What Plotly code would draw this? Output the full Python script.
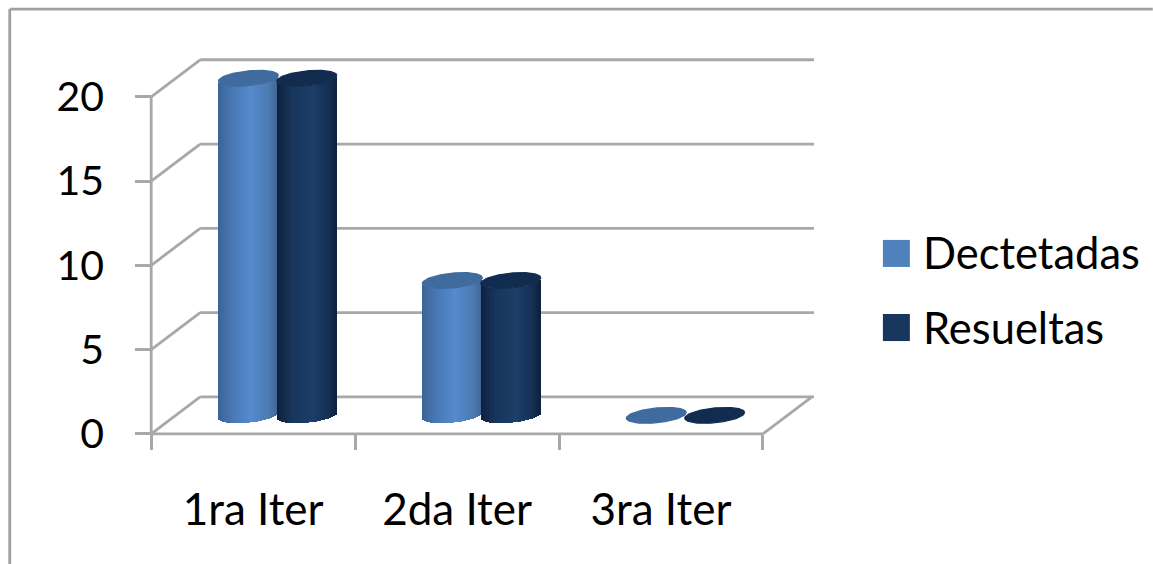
import numpy as np
import plotly.graph_objects as go

# Chart data
categories = ["1ra Iter", "2da Iter", "3ra Iter"]
dectetadas = [20, 8, 0]
resueltas = [20, 8, 0]
y_ticks = [0, 5, 10, 15, 20]

# Canvas and scale of the front plane, in pixels
W, H = 1153, 564
PX_X, PX_Y = 204.0, 16.83
X0_PX, Y0_PX = 151.0, 433.7
X_MIN, X_MAX = -0.05, 3.27
Y_MIN, Y_MAX = -0.6, 22.6

# Pseudo-3D depth of the box
DEPTH_X, DEPTH_Y = 49 / PX_X, 37 / PX_Y
RADIUS, ELL_B, ELL_SHEAR = 30 / PX_X, 7.4 / PX_Y, 2.8 / PX_Y
SPACING = 29.2 / PX_X
STRIPS = 30

GRID = "#a8a8a8"
LINE_W = 2.8

left = X0_PX + X_MIN * PX_X
right = X0_PX + X_MAX * PX_X
top = Y0_PX - Y_MAX * PX_Y
bottom = Y0_PX - Y_MIN * PX_Y


def px(x):
    return (x - left) / (right - left)


def py(y):
    return (bottom - y) / (bottom - top)


def lerp_color(stops, t):
    pos = [s[0] for s in stops]
    rgb = [np.interp(t, pos, [s[1][i] for s in stops]) for i in range(3)]
    return "rgb(%d,%d,%d)" % tuple(int(round(c)) for c in rgb)


LIGHT_SHADE = [(0, (58, 100, 150)), (0.22, (72, 118, 178)), (0.55, (84, 138, 206)),
               (0.85, (76, 122, 178)), (1, (62, 100, 146))]
DARK_SHADE = [(0, (13, 33, 62)), (0.25, (24, 54, 92)), (0.6, (28, 62, 106)),
              (0.85, (20, 48, 84)), (1, (13, 33, 60))]


def lower_edge(u):
    """Height of the near rim of a cylinder at u in [-1, 1] across its width."""
    return ELL_SHEAR * u - ELL_B * np.sqrt(np.clip(1 - u * u, 0, 1))


def cylinder_trace(values, side, name, shade):
    xs, heights, bases, colors = [], [], [], []
    edges = np.linspace(-1, 1, STRIPS + 1)
    mids = (edges[:-1] + edges[1:]) / 2
    for i, v in enumerate(values):
        cx = i + 0.5 + DEPTH_X / 2 + side * SPACING
        for u in mids:
            xs.append(cx + u * RADIUS)
            heights.append(v)
            bases.append(DEPTH_Y / 2 + lower_edge(u))
            colors.append(lerp_color(shade, (u + 1) / 2))
    return go.Bar(x=xs, y=heights, base=bases, width=2 * RADIUS / STRIPS, name=name,
                  marker=dict(color=colors, line=dict(width=0)), cliponaxis=False,
                  hoverinfo="skip", showlegend=False)


def cap_trace(values, side, name, color):
    xs, ys = [], []
    t = np.linspace(0, 2 * np.pi, 90)
    for i, v in enumerate(values):
        cx = i + 0.5 + DEPTH_X / 2 + side * SPACING
        cy = v + DEPTH_Y / 2
        xs += list(cx + RADIUS * np.cos(t)) + [None]
        ys += list(cy + ELL_SHEAR * np.cos(t) + ELL_B * np.sin(t)) + [None]
    return go.Scatter(x=xs, y=ys, mode="lines", fill="toself", fillcolor=color,
                      line=dict(width=1.2, color=color), name=name, cliponaxis=False,
                      hoverinfo="skip", showlegend=False)


fig = go.Figure()
fig.add_trace(cylinder_trace(dectetadas, -1, "Dectetadas", LIGHT_SHADE))
fig.add_trace(cylinder_trace(resueltas, 1, "Resueltas", DARK_SHADE))
fig.add_trace(cap_trace(dectetadas, -1, "Dectetadas", "#3f6b9e"))
fig.add_trace(cap_trace(resueltas, 1, "Resueltas", "#122c50"))

shapes = []
n = len(categories)


def seg(x0, y0, x1, y1):
    shapes.append(dict(type="line", xref="x", yref="y", x0=x0, y0=y0, x1=x1, y1=y1,
                       layer="below", line=dict(color=GRID, width=LINE_W)))


# Back wall gridlines and the diagonals on the side wall
for v in y_ticks:
    seg(DEPTH_X, v + DEPTH_Y, n + DEPTH_X + 0.01, v + DEPTH_Y)
    seg(0, v, DEPTH_X, v + DEPTH_Y)
# Floor edge, front axis lines
seg(n, 0, n + DEPTH_X, DEPTH_Y)
seg(0, 0, n, 0)
seg(0, 0, 0, y_ticks[-1])

# Outer chart frame, open at the right and bottom
for a, b, c, d in [(9.5, H, 9.5, 9.5), (9.5, 9.5, W, 9.5)]:
    shapes.append(dict(type="line", xref="paper", yref="paper",
                       x0=px(a), y0=py(b), x1=px(c), y1=py(d),
                       line=dict(color="#a0a0a0", width=2.8)))

# Key
KEY_FONT = dict(family="Lato, Carlito, sans-serif", size=43.5, color="#000000")
annotations = []
for label, color, cy in [("Dectetadas", "#4f81bd", 252.5), ("Resueltas", "#17375e", 326.5)]:
    box_cy = cy + 1
    shapes.append(dict(type="rect", xref="paper", yref="paper",
                       x0=px(883), x1=px(910), y0=py(box_cy + 13.5), y1=py(box_cy - 13.5),
                       fillcolor=color, line=dict(width=0)))
    annotations.append(dict(xref="paper", yref="paper", x=px(921), y=py(cy), text=label,
                            xanchor="left", yanchor="middle", showarrow=False, font=KEY_FONT))

X_FONT = dict(family="Lato, Carlito, sans-serif", size=44, color="#000000")
Y_FONT = dict(family="Lato, Carlito, sans-serif", size=41, color="#000000")

fig.update_layout(
    width=W, height=H, autosize=False,
    margin=dict(l=left, r=W - right, t=top, b=H - bottom, pad=0),
    paper_bgcolor="#ffffff", plot_bgcolor="rgba(0,0,0,0)",
    barmode="overlay", bargap=0, showlegend=False,
    shapes=shapes, annotations=annotations,
    xaxis=dict(range=[X_MIN, X_MAX], showgrid=False, zeroline=False, showline=False,
               anchor="free", position=(0 - Y_MIN) / (Y_MAX - Y_MIN),
               tickmode="array", tickvals=[i + 0.5 for i in range(n)], ticktext=categories,
               ticks="", tickfont=X_FONT, ticklabelstandoff=46,
               minor=dict(tickmode="array", tickvals=list(range(n + 1)), ticks="outside",
                          ticklen=15, tickwidth=LINE_W, tickcolor=GRID, showgrid=False)),
    yaxis=dict(range=[Y_MIN, Y_MAX], showgrid=False, zeroline=False, showline=False,
               anchor="free", position=(0 - X_MIN) / (X_MAX - X_MIN),
               tickmode="array", tickvals=y_ticks, ticks="outside", ticklen=16,
               tickwidth=LINE_W, tickcolor=GRID, tickfont=Y_FONT, ticklabelstandoff=23),
)

fig.write_html("out.html", config=dict(displayModeBar=False))
